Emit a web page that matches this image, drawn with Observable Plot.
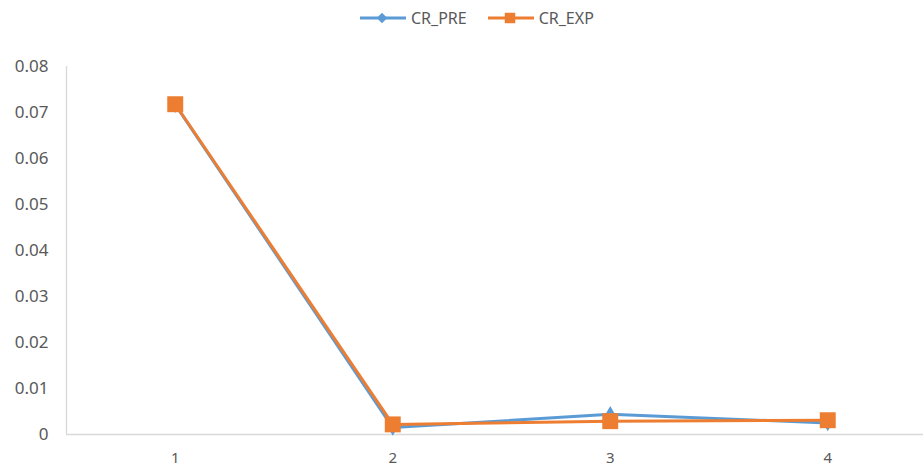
<!DOCTYPE html>
<html>
<head>
<meta charset="utf-8">
<script src="https://cdn.jsdelivr.net/npm/d3@7"></script>
<script src="https://cdn.jsdelivr.net/npm/@observablehq/plot@0.6"></script>
<style>
  html, body { margin: 0; padding: 0; background: #fff; }
  #wrap { position: relative; width: 923px; height: 466px; font-family: "Noto Sans", sans-serif; }
  #legend { position: absolute; left: 360px; top: 6px; height: 24px; display: flex; align-items: center; gap: 21px; color: #595959; font-size: 16px; }
  .item { display: flex; align-items: center; gap: 5px; }
  #chart { position: absolute; left: 0; top: 0; }
</style>
</head>
<body>
<div id="wrap">
  <div id="chart"></div>
  <div id="legend"></div>
</div>
<script>
// Step index on the x axis
const steps = [1, 2, 3, 4];
// Predicted and experimental CR values per step
const crPre = [0.0717, 0.0015, 0.0044, 0.0025];
const crExp = [0.0718, 0.0022, 0.0029, 0.0031];
// Y axis tick values
const yTicks = [0, 0.01, 0.02, 0.03, 0.04, 0.05, 0.06, 0.07, 0.08];

const seriesNames = ["CR_PRE", "CR_EXP"];
const colors = {CR_PRE: "#5b9bd5", CR_EXP: "#ed7d31"};
const symbols = {CR_PRE: "diamond", CR_EXP: "square"};

const rows = [
  ...steps.map((s, i) => ({step: s, value: crPre[i], series: "CR_PRE"})),
  ...steps.map((s, i) => ({step: s, value: crExp[i], series: "CR_EXP"}))
];
const pre = rows.filter(d => d.series === "CR_PRE");
const exp = rows.filter(d => d.series === "CR_EXP");

const W = 923, H = 466;
const plot = Plot.plot({
  width: W,
  height: H,
  marginLeft: 66,
  marginRight: 0,
  marginTop: 66,
  marginBottom: 32,
  style: {fontFamily: "Noto Sans, sans-serif", color: "#595959", background: "white"},
  x: {type: "linear", domain: [0.5, 4.5], range: [66, 936]},
  y: {domain: [0, 0.08]},
  marks: [
    Plot.ruleY([0], {stroke: "#d9d9d9", strokeWidth: 1.3}),
    Plot.ruleX([0.5], {y1: 0, y2: 0.08, stroke: "#d9d9d9", strokeWidth: 1.3}),
    Plot.axisY({ticks: yTicks, tickSize: 0, tickPadding: 18, fontSize: 17, fill: "#595959",
      tickFormat: d => d === 0 ? "0" : d.toFixed(2), label: null}),
    Plot.axisX({ticks: steps, tickSize: 0, tickPadding: 18, fontSize: 15, fill: "#595959",
      tickFormat: d => String(d), label: null}),
    Plot.line(pre, {x: "step", y: "value", stroke: colors.CR_PRE, strokeWidth: 3}),
    Plot.dot(pre, {x: "step", y: "value", symbol: "diamond", r: 5, fill: colors.CR_PRE, stroke: "none"}),
    Plot.line(exp, {x: "step", y: "value", stroke: colors.CR_EXP, strokeWidth: 3}),
    Plot.dot(exp, {x: "step", y: "value", symbol: "square", r: 9, fill: colors.CR_EXP, stroke: "none"})
  ]
});
document.getElementById("chart").appendChild(plot);

// Legend row
const legend = d3.select("#legend");
seriesNames.forEach(name => {
  const item = legend.append("div").attr("class", "item");
  const svg = item.append("svg").attr("width", 46).attr("height", 20);
  svg.append("line").attr("x1", 0).attr("x2", 46).attr("y1", 10).attr("y2", 10)
    .attr("stroke", colors[name]).attr("stroke-width", 3);
  const sym = symbols[name] === "diamond" ? d3.symbolDiamond2 : d3.symbolSquare;
  const size = symbols[name] === "diamond" ? 70 : 110;
  svg.append("path").attr("d", d3.symbol(sym, size)()).attr("transform", "translate(22,10)")
    .attr("fill", colors[name]);
  item.append("span").text(name);
});
</script>
</body>
</html>
